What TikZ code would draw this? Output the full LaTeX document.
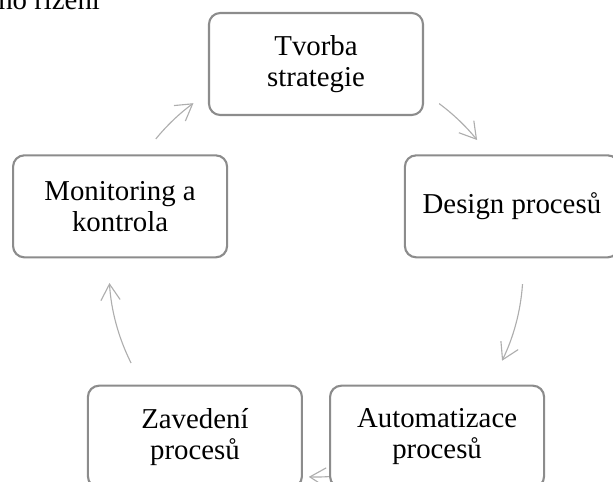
\documentclass[tikz,border=0pt]{standalone}
\usepackage{fontspec}
\setmainfont{Liberation Serif}
\usetikzlibrary{arrows.meta, calc, backgrounds}
\definecolor{cframe}{HTML}{8C8C8C}
\definecolor{carrow}{HTML}{AEAEAE}
\tikzset{
  stage/.style={draw=cframe, fill=white, rounded corners=8pt, align=center, line width=1.5pt, minimum width=5.35cm, minimum height=2.55cm, font=\fontsize{20.5}{22}\selectfont},
  cyc/.style={-{Straight Barb[length=4mm, width=4.8mm]}, draw=carrow, line width=0.8pt},
}

\begin{document}
\begin{tikzpicture}
  \useasboundingbox (0,0) rectangle (15.325,12.025);
  \clip (0,0) rectangle (15.325,12.025);
  \coordinate (ctr) at (7.9,5.275);
  \node[anchor=base west, font=\fontsize{20.5}{22}\selectfont, inner sep=0pt] (head) at (-0.05,11.8) {ho řízení};
  \foreach \n/\a/\t in {tvorba/90/{Tvorba\\strategie}, design/18/{Design procesů}, auto/-54/{Automatizace\\procesů}, zaved/-126/{Zavedení\\procesů}, monit/162/{Monitoring a\\kontrola}}
    \node[stage] (\n) at ($(ctr)+(\a:5.15)$) {\t};
  \begin{scope}[on background layer]
  % cycle arrows
  \foreach \i/\a/\b in {1/53.5/38.9, 2/-3.9/-26, 3/-85/-92, 4/206.7/183.6, 5/140.7/126.3} {
    \coordinate (s\i) at ($(ctr)+(\a:5.175)$);
    \draw[cyc] (s\i) arc[start angle=\a, end angle=\b, radius=5.175];
  }
  \end{scope}
\end{tikzpicture}
\end{document}
